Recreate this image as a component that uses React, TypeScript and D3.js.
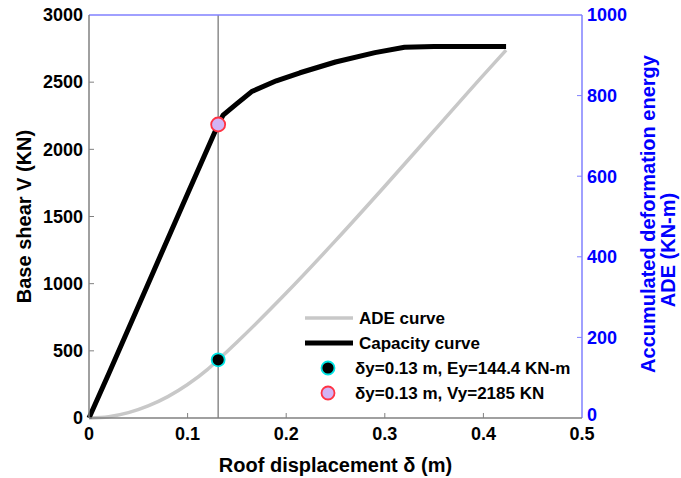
import React from "react";
import * as d3 from "d3";

const capDisp = [0, 0.02, 0.06, 0.1, 0.131, 0.136, 0.15, 0.165, 0.19, 0.214, 0.25, 0.29, 0.32, 0.35, 0.423];
const capShear = [0, 330, 1000, 1670, 2185, 2255, 2340, 2430, 2510, 2570, 2650, 2720, 2760, 2766, 2765];

const adeDisp = [0, 0.02, 0.04, 0.06, 0.08, 0.1, 0.12, 0.131, 0.15, 0.2, 0.25, 0.3, 0.35, 0.4, 0.423];
const adeEnergy = [0, 3.3, 13.3, 30, 53, 83, 120, 144.4, 188, 310, 440, 575, 713, 851, 913];

const xTicks = [0, 0.1, 0.2, 0.3, 0.4, 0.5];
const xTickLabels = ["0", "0.1", "0.2", "0.3", "0.4", "0.5"];
const yLeftTicks = [0, 500, 1000, 1500, 2000, 2500, 3000];
const yRightTicks = [0, 200, 400, 600, 800, 1000];

const yieldDisp = 0.131;
const yieldShear = 2185;
const yieldEnergy = 144.4;

const legendLabels = [
  "ADE curve",
  "Capacity curve",
  "\u03b4y=0.13 m, Ey=144.4 KN-m",
  "\u03b4y=0.13 m, Vy=2185 KN",
];

const W = 681;
const H = 478;
const M = { left: 89, right: 582, top: 15, bottom: 418 };
const FONT = "'Liberation Sans', Arial, Helvetica, sans-serif";
const GRAY_AX = "#808080";
const BLUE_AX = "#8080ff";
const BLUE = "#0000ff";

export default function App() {
  const x = d3.scaleLinear().domain([0, 0.5]).range([M.left, M.right]);
  const yL = d3.scaleLinear().domain([0, 3000]).range([M.bottom, M.top]);
  const yR = d3.scaleLinear().domain([0, 1000]).range([M.bottom, M.top]);

  const capData = capDisp.map((d, i) => [d, capShear[i]] as [number, number]);
  const adeData = adeDisp.map((d, i) => [d, adeEnergy[i]] as [number, number]);

  const capLine = d3
    .line<[number, number]>()
    .x((d) => x(d[0]))
    .y((d) => yL(d[1]))
    .curve(d3.curveLinear);
  const adeLine = d3
    .line<[number, number]>()
    .x((d) => x(d[0]))
    .y((d) => yR(d[1]))
    .curve(d3.curveMonotoneX);

  const lgX1 = 305;
  const lgX2 = 353;
  const lgY0 = 318;
  const lgDy = 25;

  return (
    <svg
      width={W}
      height={H}
      style={{ position: "absolute", left: 0, top: 0, background: "#fff" }}
      fontFamily={FONT}
      fontWeight="bold"
    >
      {/* curves */}
      <path d={adeLine(adeData) || ""} fill="none" stroke="#c8c8c8" strokeWidth={3.5} />
      <line
        x1={x(yieldDisp)}
        x2={x(yieldDisp)}
        y1={M.top}
        y2={M.bottom}
        stroke="#8c8c8c"
        strokeWidth={1.5}
      />
      <path
        d={capLine(capData) || ""}
        fill="none"
        stroke="#000"
        strokeWidth={5}
        strokeLinejoin="round"
      />
      <circle cx={x(yieldDisp)} cy={yR(yieldEnergy)} r={6.5} fill="#000" stroke="#00e5e5" strokeWidth={1.8} />
      <circle cx={x(yieldDisp)} cy={yL(yieldShear)} r={7} fill="#d2b4f5" stroke="#ff3344" strokeWidth={1.8} />

      {/* axes frame */}
      <line x1={M.left} x2={M.right} y1={M.top} y2={M.top} stroke={BLUE_AX} strokeWidth={1.5} />
      <line x1={M.right} x2={M.right} y1={M.top} y2={M.bottom} stroke={BLUE_AX} strokeWidth={1.5} />
      <line x1={M.left} x2={M.left} y1={M.top} y2={M.bottom} stroke={GRAY_AX} strokeWidth={1.5} />
      <line x1={M.left} x2={M.right} y1={M.bottom} y2={M.bottom} stroke={GRAY_AX} strokeWidth={1.5} />

      {/* x ticks */}
      {xTicks.map((t, i) => (
        <g key={"x" + i}>
          {i > 0 && i < xTicks.length - 1 && (
            <line x1={x(t)} x2={x(t)} y1={M.bottom} y2={M.bottom - 5} stroke={GRAY_AX} strokeWidth={1} />
          )}
          <text x={x(t)} y={440} textAnchor="middle" fontSize={18} fill="#000">
            {xTickLabels[i]}
          </text>
        </g>
      ))}
      {/* left ticks */}
      {yLeftTicks.map((t, i) => (
        <g key={"l" + i}>
          {i > 0 && i < yLeftTicks.length - 1 && (
            <line x1={M.left} x2={M.left + 5} y1={yL(t)} y2={yL(t)} stroke={GRAY_AX} strokeWidth={1} />
          )}
          <text x={83} y={yL(t)} dy="0.35em" textAnchor="end" fontSize={18} fill="#000">
            {t}
          </text>
        </g>
      ))}
      {/* right ticks */}
      {yRightTicks.map((t, i) => (
        <g key={"r" + i}>
          {i > 0 && i < yRightTicks.length - 1 && (
            <line x1={M.right} x2={M.right - 5} y1={yR(t)} y2={yR(t)} stroke={BLUE_AX} strokeWidth={1} />
          )}
          <text
            x={587}
            y={i === 0 ? yR(t) - 3 : yR(t)}
            dy="0.35em"
            textAnchor="start"
            fontSize={18}
            fill={BLUE}
          >
            {t}
          </text>
        </g>
      ))}

      {/* axis labels */}
      <text x={(M.left + M.right) / 2} y={472} textAnchor="middle" fontSize={20} fill="#000">
        Roof displacement {"\u03b4"} (m)
      </text>
      <text
        transform={`translate(31,${(M.top + M.bottom) / 2}) rotate(-90)`}
        textAnchor="middle"
        fontSize={20}
        fill="#000"
      >
        Base shear V (KN)
      </text>
      <text
        transform={`translate(655,214) rotate(-90)`}
        textAnchor="middle"
        fontSize={20}
        fill={BLUE}
      >
        Accumulated deformation energy
      </text>
      <text
        transform={`translate(675,250) rotate(-90)`}
        textAnchor="middle"
        fontSize={20}
        fill={BLUE}
      >
        ADE (KN-m)
      </text>

      {/* legend */}
      <g fontSize={17} fill="#000">
        <line x1={lgX1} x2={lgX2} y1={lgY0} y2={lgY0} stroke="#c8c8c8" strokeWidth={3.5} />
        <text x={359} y={lgY0} dy="0.35em">{legendLabels[0]}</text>
        <line x1={lgX1} x2={lgX2} y1={lgY0 + lgDy} y2={lgY0 + lgDy} stroke="#000" strokeWidth={5} />
        <text x={359} y={lgY0 + lgDy} dy="0.35em">{legendLabels[1]}</text>
        <circle cx={328} cy={lgY0 + 2 * lgDy} r={6.5} fill="#000" stroke="#00e5e5" strokeWidth={1.8} />
        <text x={355} y={lgY0 + 2 * lgDy} dy="0.35em">{legendLabels[2]}</text>
        <circle cx={328} cy={lgY0 + 3 * lgDy} r={6.5} fill="#d2b4f5" stroke="#ff3344" strokeWidth={1.8} />
        <text x={355} y={lgY0 + 3 * lgDy} dy="0.35em">{legendLabels[3]}</text>
      </g>
    </svg>
  );
}
